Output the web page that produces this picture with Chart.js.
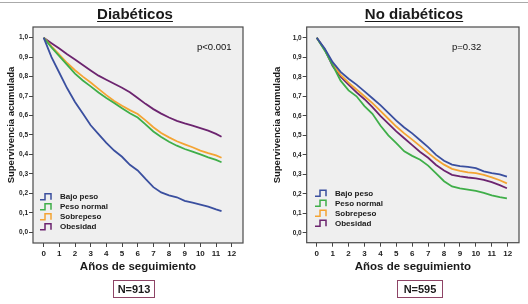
<!DOCTYPE html>
<html>
<head>
<meta charset="utf-8">
<script src="https://cdn.jsdelivr.net/npm/chart.js@4/dist/chart.umd.min.js"></script>
<style>
  body { margin: 0; background: #fff; font-family: "Liberation Sans", Arial, sans-serif; }
  #wrap { position: relative; width: 528px; height: 304px; overflow: hidden; }
  canvas { position: absolute; top: 0; }
  .rule { position: absolute; left: 0; top: 2px; width: 528px; height: 1px; background: #aaa; }
  .title { position: absolute; top: 6px; font-size: 15px; line-height: 15px; font-weight: bold;
           color: #1a1a1a; text-decoration: underline; text-underline-offset: 2px; white-space: nowrap; transform: translateX(-50%); }
  .pval { position: absolute; top: 41px; font-size: 9.5px; line-height: 12px; color: #111; }
  .nbox { position: absolute; top: 280px; height: 18px; box-sizing: border-box; border: 1px solid #8e4466;
          font-size: 11px; line-height: 16px; font-weight: bold; text-align: center; color: #1a1a1a; }
</style>
</head>
<body>
<div id="wrap">
  <div class="rule"></div>
  <canvas id="chartDiab" width="264" height="304" style="left:0"></canvas>
  <canvas id="chartNoDiab" width="264" height="304" style="left:264px"></canvas>
  <div class="title" style="left:135px">Diabéticos</div>
  <div class="title" style="left:414px">No diabéticos</div>
  <div class="pval" style="left:197px">p&lt;0.001</div>
  <div class="pval" style="left:452px">p=0.32</div>
  <div class="nbox" style="left:113px; width:42px">N=913</div>
  <div class="nbox" style="left:397px; width:46px">N=595</div>
</div>
<script>
// grupos de peso
const seriesNames = ['Bajo peso', 'Peso normal', 'Sobrepeso', 'Obesidad'];
const seriesColors = ['#3a4f9f', '#3fae49', '#f4a433', '#6c246f'];

// ejes
const xTickLabels = [0, 1, 2, 3, 4, 5, 6, 7, 8, 9, 10, 11, 12];
const yTickValues = [0, 0.1, 0.2, 0.3, 0.4, 0.5, 0.6, 0.7, 0.8, 0.9, 1.0];

// Diabéticos (años de seguimiento / supervivencia acumulada)
const yearsDiab = [0, 0.5, 1, 1.5, 2, 2.5, 3, 3.5, 4, 4.5, 5, 5.5, 6, 6.5, 7, 7.5, 8, 8.5, 9, 9.5, 10, 10.5, 11, 11.35];
const diabBajo = [1.0, 0.90, 0.82, 0.74, 0.67, 0.61, 0.55, 0.505, 0.46, 0.42, 0.388, 0.347, 0.318, 0.274, 0.232, 0.205, 0.19, 0.18, 0.162, 0.152, 0.142, 0.132, 0.118, 0.109];
const diabNormal = [1.0, 0.95, 0.905, 0.86, 0.815, 0.78, 0.75, 0.718, 0.69, 0.665, 0.638, 0.612, 0.59, 0.555, 0.518, 0.49, 0.465, 0.445, 0.428, 0.415, 0.40, 0.385, 0.372, 0.36];
const diabSobre = [1.0, 0.955, 0.913, 0.87, 0.833, 0.80, 0.77, 0.737, 0.705, 0.675, 0.65, 0.628, 0.608, 0.575, 0.54, 0.51, 0.488, 0.468, 0.452, 0.437, 0.42, 0.407, 0.395, 0.383];
const diabObes = [1.0, 0.972, 0.945, 0.915, 0.888, 0.86, 0.832, 0.805, 0.784, 0.763, 0.743, 0.72, 0.69, 0.66, 0.633, 0.61, 0.59, 0.573, 0.56, 0.548, 0.535, 0.522, 0.506, 0.491];

// No diabéticos
const yearsNoDiab = [0, 0.5, 1, 1.5, 2, 2.5, 3, 3.5, 4, 4.5, 5, 5.5, 6, 6.5, 7, 7.5, 8, 8.5, 9, 9.5, 10, 10.5, 11, 11.5, 11.95];
const noDiabBajo = [1.0, 0.945, 0.875, 0.825, 0.79, 0.76, 0.725, 0.69, 0.655, 0.615, 0.575, 0.54, 0.51, 0.475, 0.44, 0.40, 0.37, 0.35, 0.342, 0.338, 0.332, 0.315, 0.307, 0.30, 0.288];
const noDiabNormal = [1.0, 0.935, 0.86, 0.78, 0.73, 0.70, 0.65, 0.61, 0.55, 0.50, 0.46, 0.418, 0.395, 0.375, 0.345, 0.305, 0.265, 0.238, 0.228, 0.222, 0.215, 0.205, 0.193, 0.183, 0.177];
const noDiabSobre = [1.0, 0.94, 0.865, 0.81, 0.77, 0.735, 0.70, 0.665, 0.625, 0.585, 0.545, 0.51, 0.478, 0.445, 0.41, 0.378, 0.35, 0.328, 0.318, 0.31, 0.306, 0.298, 0.285, 0.27, 0.254];
const noDiabObes = [1.0, 0.94, 0.855, 0.80, 0.76, 0.72, 0.685, 0.645, 0.60, 0.56, 0.52, 0.485, 0.45, 0.415, 0.385, 0.348, 0.32, 0.298, 0.29, 0.284, 0.279, 0.272, 0.26, 0.245, 0.229];

const FONT = '"Liberation Sans", Arial, sans-serif';
Chart.defaults.font.family = FONT;

// fondo gris, marco, título del eje Y y leyenda dentro del área
const framePlugin = {
  id: 'frame',
  beforeDraw(chart) {
    const a = chart.chartArea, ctx = chart.ctx;
    ctx.save();
    ctx.fillStyle = '#efefef';
    ctx.fillRect(a.left, a.top, a.right - a.left, a.bottom - a.top);
    ctx.restore();
  },
  afterDraw(chart, args, opts) {
    const a = chart.chartArea, ctx = chart.ctx;
    ctx.save();
    ctx.strokeStyle = '#4a4a4a';
    ctx.lineWidth = 1.2;
    ctx.strokeRect(a.left, a.top, a.right - a.left, a.bottom - a.top);

    // título eje Y
    ctx.translate(opts.yTitleX, opts.yTitleY);
    ctx.rotate(-Math.PI / 2);
    ctx.font = 'bold 9.5px ' + FONT;
    ctx.fillStyle = '#1a1a1a';
    ctx.textAlign = 'center';
    ctx.textBaseline = 'middle';
    ctx.fillText(opts.yTitle, 0, 0);
    ctx.restore();

    // leyenda con el símbolo de escalón
    ctx.save();
    ctx.font = 'bold 8px ' + FONT;
    ctx.textBaseline = 'middle';
    chart.data.datasets.forEach((ds, i) => {
      const x = opts.legendX, y = opts.legendY + i * 10;
      ctx.strokeStyle = ds.borderColor;
      ctx.lineWidth = 1.5;
      ctx.beginPath();
      ctx.moveTo(x, y + 3);
      ctx.lineTo(x + 5, y + 3);
      ctx.lineTo(x + 5, y - 3);
      ctx.lineTo(x + 11, y - 3);
      ctx.lineTo(x + 11, y + 3);
      ctx.stroke();
      ctx.fillStyle = '#1a1a1a';
      ctx.fillText(ds.label, x + 20, y + 0.5);
    });
    ctx.restore();
  }
};

function makeChart(id, years, series, cfg) {
  const ctx = document.getElementById(id).getContext('2d');
  return new Chart(ctx, {
    type: 'line',
    data: {
      datasets: series.map((vals, i) => ({
        label: seriesNames[i],
        data: years.map((t, k) => ({ x: t, y: vals[k] })),
        borderColor: seriesColors[i],
        borderWidth: 1.8,
        pointRadius: 0,
        tension: 0,
        fill: false
      }))
    },
    options: {
      responsive: false,
      animation: false,
      devicePixelRatio: 1,
      layout: { padding: cfg.padding },
      plugins: {
        legend: { display: false },
        tooltip: { enabled: false },
        frame: cfg.frame
      },
      scales: {
        x: {
          type: 'linear',
          min: cfg.xMin,
          max: cfg.xMax,
          afterBuildTicks: s => { s.ticks = xTickLabels.map(v => ({ value: v })); },
          afterFit: s => { s.height = 36; },
          border: { display: false },
          grid: { drawOnChartArea: false, drawTicks: true, tickLength: 4, color: '#444' },
          ticks: { autoSkip: false, maxRotation: 0, padding: 2, color: '#222', font: { size: 8, weight: 'bold' } },
          title: {
            display: true,
            text: 'Años de seguimiento',
            color: '#1a1a1a',
            font: { size: 11.5, weight: 'bold' },
            padding: { top: 0, bottom: 5 }
          }
        },
        y: {
          min: cfg.yMin,
          max: 1.055,
          afterBuildTicks: s => { s.ticks = yTickValues.map(v => ({ value: v })); },
          afterFit: s => { s.width = cfg.yWidth; },
          border: { display: false },
          grid: { drawOnChartArea: false, drawTicks: true, tickLength: 4, color: '#444' },
          ticks: {
            padding: 1,
            color: '#222',
            font: { size: 6.5, weight: 'bold' },
            callback: v => v.toFixed(1).replace('.', ',')
          }
        }
      }
    },
    plugins: [framePlugin]
  });
}

makeChart('chartDiab', yearsDiab, [diabBajo, diabNormal, diabSobre, diabObes], {
  padding: { top: 27, right: 21, bottom: 25, left: 0 },
  xMin: -0.68, xMax: 12.72, yMin: -0.055, yWidth: 33,
  frame: { yTitle: 'Supervivencia acumulada', yTitleX: 11, yTitleY: 125, legendX: 40, legendY: 196.7 }
});

makeChart('chartNoDiab', yearsNoDiab, [noDiabBajo, noDiabNormal, noDiabSobre, noDiabObes], {
  padding: { top: 27, right: 9, bottom: 25.3, left: 0 },
  xMin: -0.63, xMax: 12.71, yMin: -0.05, yWidth: 42.7,
  frame: { yTitle: 'Supervivencia acumulada', yTitleX: 13, yTitleY: 125, legendX: 51, legendY: 193.3 }
});
</script>
</body>
</html>
